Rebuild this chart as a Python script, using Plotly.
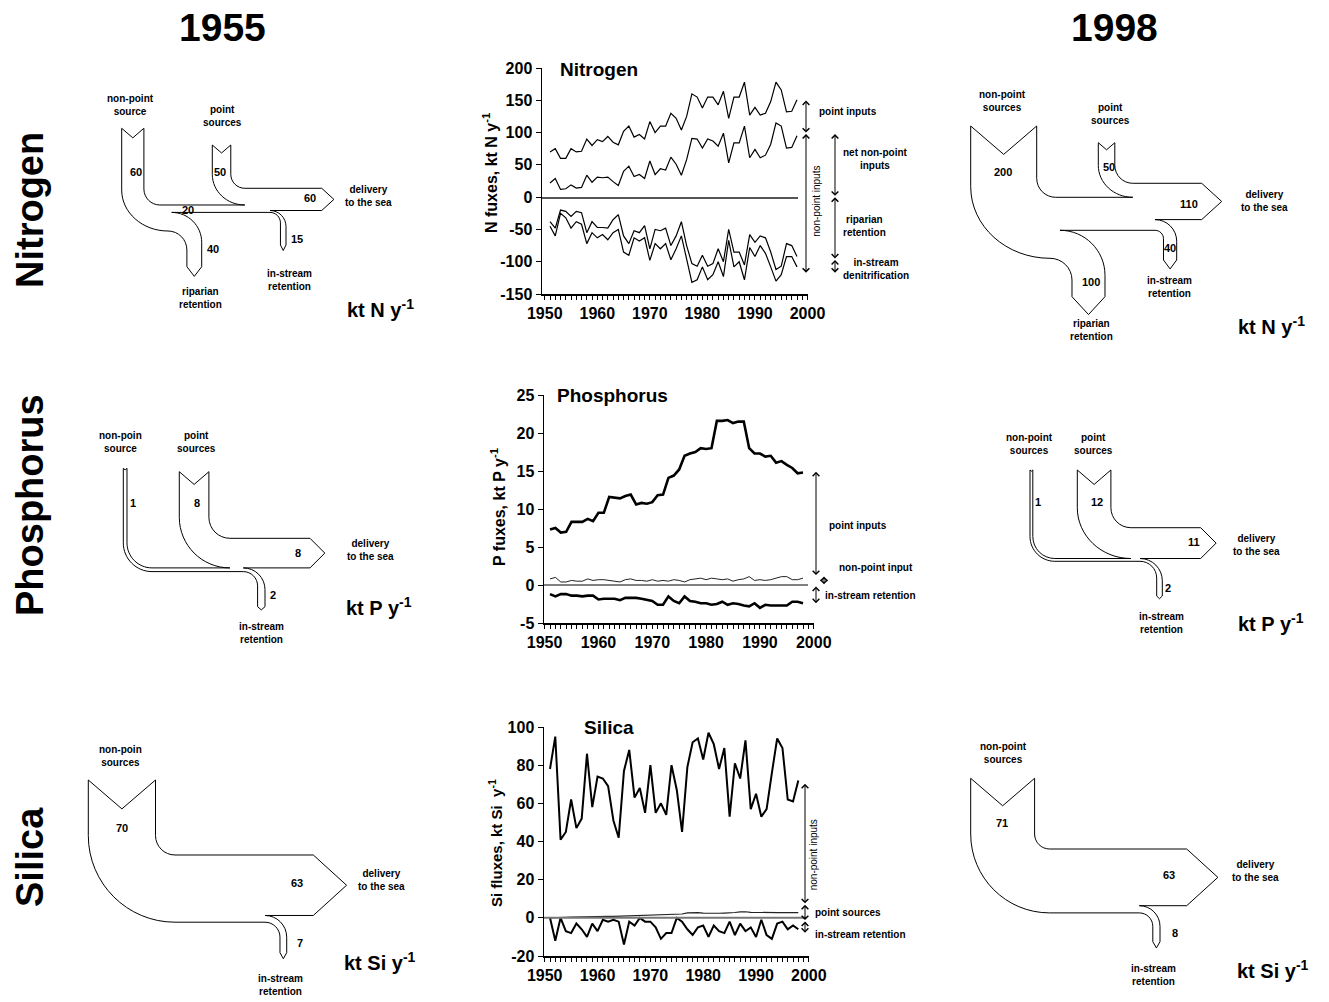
import plotly.graph_objects as go

W, H = 1329, 1002
FONT = "Liberation Sans, Arial, Helvetica, sans-serif"

# ---------------- time-series data ----------------
years = list(range(1951, 1999))

n_total = [70, 75, 60, 60, 75, 70, 71, 90, 80, 89, 86, 94, 85, 81, 102, 110, 93, 97, 90, 117,
           100, 110, 110, 130, 122, 104, 125, 160, 155, 138, 155, 155, 143, 164, 122, 155, 155, 178,
           127, 139, 127, 130, 148, 178, 166, 132, 133, 151]
n_net_nonpoint = [22, 29, 12, 13, 19, 14, 15, 34, 23, 31, 30, 31, 24, 18, 40, 48, 32, 35, 29, 56,
                  35, 44, 42, 62, 51, 34, 58, 91, 90, 76, 90, 87, 79, 99, 53, 84, 84, 110,
                  61, 74, 61, 65, 82, 115, 110, 76, 77, 95]
n_riparian = [-38, -48, -20, -22, -30, -22, -24, -55, -38, -47, -47, -48, -35, -27, -60, -72, -52, -55, -44, -80,
              -50, -52, -48, -75, -60, -38, -75, -103, -107, -90, -107, -103, -80, -100, -50, -85, -85, -105,
              -58, -70, -60, -63, -85, -112, -107, -72, -75, -92]
n_riparian_instream = [-45, -60, -25, -32, -48, -38, -42, -72, -55, -63, -58, -66, -55, -50, -85, -90, -63, -68, -63, -98,
                       -72, -80, -72, -97, -80, -60, -96, -132, -128, -108, -128, -120, -100, -123, -67, -108, -100, -128,
                       -78, -92, -75, -87, -108, -130, -120, -92, -92, -108]

p_point = [7.3, 7.5, 6.9, 7.0, 8.3, 8.3, 8.3, 8.7, 8.4, 9.5, 9.5, 11.6, 11.5, 11.4, 11.7, 11.9, 10.6, 10.8,
           10.7, 10.9, 11.8, 11.9, 14.1, 14.4, 15.2, 17.0, 17.3, 17.5, 18.0, 17.9, 18.0, 21.6, 21.6, 21.7,
           21.3, 21.5, 21.5, 18.0, 17.3, 17.3, 16.9, 17.0, 16.1, 16.3, 15.8, 15.4, 14.7, 14.8]
p_nonpoint = [0.8, 1.0, 0.4, 0.4, 0.6, 0.5, 0.5, 0.8, 0.6, 0.7, 0.7, 0.6, 0.5, 0.4, 0.7, 0.8, 0.6, 0.6,
              0.5, 0.7, 0.5, 0.6, 0.5, 0.7, 0.6, 0.4, 0.7, 0.8, 0.9, 0.7, 0.9, 0.8, 0.7, 0.8, 0.5, 0.7,
              0.8, 1.1, 0.6, 0.7, 0.6, 0.7, 0.9, 1.1, 1.1, 0.7, 0.7, 0.9]
p_instream = [-1.2, -1.5, -1.2, -1.2, -1.4, -1.4, -1.5, -1.4, -1.4, -1.9, -1.8, -1.8, -1.8, -2.0, -1.7, -1.7,
              -1.7, -1.8, -2.0, -2.1, -2.6, -2.6, -1.5, -2.1, -2.4, -1.5, -2.1, -2.2, -2.4, -2.4, -2.6, -2.5,
              -2.2, -2.6, -2.4, -2.5, -2.7, -2.8, -2.4, -3.0, -2.6, -2.7, -2.7, -2.7, -2.7, -2.2, -2.2, -2.4]

si_total = [78, 95, 41, 45, 62, 47, 52, 86, 58, 74, 73, 69, 51, 42, 77, 88, 63, 68, 55, 80,
            55, 60, 54, 80, 67, 45, 79, 92, 94, 83, 97, 91, 78, 89, 53, 81, 73, 93, 57, 65,
            53, 57, 76, 94, 89, 62, 61, 72]
si_point = [0.0, 0.0, 0.2, 0.3, 0.4, 0.5, 0.5, 0.6, 0.6, 0.7, 0.7, 0.8, 0.8, 0.9, 1.0, 1.0, 1.1, 1.1,
            1.2, 1.4, 1.5, 1.6, 1.7, 1.8, 1.9, 2.0, 2.6, 2.7, 2.7, 2.5, 2.4, 2.4, 2.4, 2.5, 2.5, 2.8,
            3.1, 3.2, 2.9, 2.8, 2.7, 2.7, 2.7, 2.7, 2.7, 2.7, 2.7, 2.7]
si_instream = [0, -12, 0, -7, -8, -3, -6, -10, -3, -7, -1, -2, -1, -2, -14, -2, -4, 0, -2, -2,
               -5, -11, -8, -8, 0, -2, -6, -9, -5, -4, -10, -4, -7, -8, -2, -9, -3, -7, -5, -10,
               -1, -9, -11, -3, -2, -6, -4, -6]

# axis tick values
x_ticks = [1950, 1960, 1970, 1980, 1990, 2000]
n_yticks = [-150, -100, -50, 0, 50, 100, 150, 200]
p_yticks = [-5, 0, 5, 10, 15, 20, 25]
si_yticks = [-20, 0, 20, 40, 60, 80, 100]

# ---------------- flow-diagram values (kt per year) ----------------
n_1955 = {"nonpoint": 60, "point": 50, "riparian": 40, "instream": 15, "delivery": 60}
n_1998 = {"nonpoint": 200, "point": 50, "riparian": 100, "instream": 40, "delivery": 110}
p_1955 = {"nonpoint": 1, "point": 8, "instream": 2, "delivery": 8}
p_1998 = {"nonpoint": 1, "point": 12, "instream": 2, "delivery": 11}
si_1955 = {"nonpoint": 70, "instream": 7, "delivery": 63}
si_1998 = {"nonpoint": 71, "instream": 8, "delivery": 63}

# ---------------- helpers ----------------
def px(x):
    return x / W


def py(y):
    return 1 - y / H


KAPPA = 0.5523


class Path:
    def __init__(self, x, y):
        self.d = [f"M{px(x):.5f},{py(y):.5f}"]
        self.x, self.y = x, y

    def L(self, x, y):
        self.d.append(f"L{px(x):.5f},{py(y):.5f}")
        self.x, self.y = x, y
        return self

    def C(self, x, y, start):
        x0, y0 = self.x, self.y
        if start == "h":
            c1 = (x0 + KAPPA * (x - x0), y0)
            c2 = (x, y - KAPPA * (y - y0))
        else:
            c1 = (x0, y0 + KAPPA * (y - y0))
            c2 = (x - KAPPA * (x - x0), y)
        self.d.append("C" + " ".join(f"{px(a):.5f},{py(b):.5f}" for a, b in (c1, c2, (x, y))))
        self.x, self.y = x, y
        return self

    def svg(self):
        return "".join(self.d) + "Z"


shapes = []
annotations = []


def add_path(p):
    shapes.append(dict(type="path", path=p.svg(), xref="paper", yref="paper",
                       line=dict(color="black", width=1), fillcolor="rgba(0,0,0,0)", layer="above"))


def label(x, y, text, size=10, anchor="center", weight="bold", angle=0):
    annotations.append(dict(x=px(x), y=py(y), xref="paper", yref="paper", text=text, showarrow=False,
                            textangle=angle, xanchor=anchor, yanchor="middle",
                            font=dict(family=FONT, size=size, color="black", weight=weight)))


def notch(w):
    return 0.43 * w


def tipd(w):
    return 0.45 * w + 3


def n_diagram(v, k, g):
    wn, wp, hd = v["nonpoint"] * k, v["point"] * k, v["delivery"] * k
    wi, wr = v["instream"] * k, v["riparian"] * k
    wb = (v["nonpoint"] - v["riparian"]) * k
    xnl, xpl = g["xn"], g["xp"]
    xnr, xpr = xnl + wn, xpl + wp
    yd, yb1 = g["yd"], g["yb1"]
    yb2 = yb1 + wb
    p = Path(xpr, g["ytop_p"])
    p.L(xpr, yd - g["rp"]).C(xpr + g["rp"], yd, "v")
    p.L(g["xa"], yd).L(g["xa"] + 0.55 * hd, yd + hd / 2).L(g["xa"], yd + hd)
    ro = g["xir"] - g["xs"]
    p.L(g["xs"], yd + hd).C(g["xir"], yd + hd + ro, "h")
    p.L(g["xir"], g["yie"]).L(g["xir"] - wi / 2, g["yie"] + tipd(wi))
    xil = g["xir"] - wi
    ril = max(ro - wi, 4)
    p.L(xil, g["yie"]).L(xil, yb2 + ril).C(xil - ril, yb2, "v")
    p.L(g["xrj"], yb2).C(g["xrr"], yb2 + (g["xrr"] - g["xrj"]), "h")
    p.L(g["xrr"], g["yre"]).L(g["xrr"] - wr / 2, g["yre"] + tipd(wr))
    xrl = g["xrr"] - wr
    p.L(xrl, g["yre"]).L(xrl, g["ys2"]).C(g["xm"], g["ym"], "v").C(xnl, g["ys1"], "h")
    p.L(xnl, g["ytop_n"]).L(xnl + wn / 2, g["ytop_n"] + notch(wn)).L(xnr, g["ytop_n"])
    p.L(xnr, yb1 - g["r1"]).C(xnr + g["r1"], yb1, "v")
    xe = xpr + g["rp"]
    p.L(xe, yb1).C(xpl, yd - g["rp"], "h")
    p.L(xpl, g["ytop_p"]).L(xpl + wp / 2, g["ytop_p"] + notch(wp)).L(xpr, g["ytop_p"])
    add_path(p)


def p_diagram(v, k, g):
    wn, wp, hd, wi = v["nonpoint"] * k, v["point"] * k, v["delivery"] * k, v["instream"] * k
    xn, xp, yd, rp, rn = g["xn"], g["xp"], g["yd"], g["rp"], g["rn"]
    p = Path(xp + wp, g["ytop_p"])
    p.L(xp + wp, yd - rp).C(xp + wp + rp, yd, "v")
    p.L(g["xa"], yd).L(g["xa"] + 0.5 * hd, yd + hd / 2).L(g["xa"], yd + hd)
    ro = g["xir"] - g["xs"]
    p.L(g["xs"], yd + hd).C(g["xir"], yd + hd + ro, "h")
    p.L(g["xir"], g["yie"]).L(g["xir"] - wi / 2, g["yie"] + tipd(wi) * 0.5)
    xil = g["xir"] - wi
    ril = max(ro - wi, 4)
    ynb = yd + hd + wn
    p.L(xil, g["yie"]).L(xil, ynb + ril).C(xil - ril, ynb, "v")
    cx = xn + wn + rn
    p.L(cx, ynb).C(xn, yd + hd - rn, "h")
    p.L(xn, g["ytop_n"]).L(xn + wn / 2, g["ytop_n"] + notch(wn)).L(xn + wn, g["ytop_n"])
    p.L(xn + wn, yd + hd - rn).C(cx, yd + hd, "v")
    xe = xp + wp + rp
    p.L(xe, yd + hd).C(xp, yd - rp, "h")
    p.L(xp, g["ytop_p"]).L(xp + wp / 2, g["ytop_p"] + notch(wp)).L(xp + wp, g["ytop_p"])
    add_path(p)


def s_diagram(v, k, g):
    wt, hd, wi = v["nonpoint"] * k, v["delivery"] * k, v["instream"] * k
    xl, yd, r = g["xl"], g["yd"], g["r"]
    xr = xl + wt
    p = Path(xr, g["ytop"])
    p.L(xr, yd - r).C(xr + r, yd, "v")
    p.L(g["xa"], yd).L(g["xa"] + 0.55 * hd, yd + hd / 2).L(g["xa"], yd + hd)
    ro = g["xir"] - g["xs"]
    p.L(g["xs"], yd + hd).C(g["xir"], yd + hd + ro, "h")
    p.L(g["xir"], g["yie"]).L(g["xir"] - wi / 2, g["yie"] + tipd(wi))
    xil = g["xir"] - wi
    ril = max(ro - wi, 4)
    yb = yd + wt
    p.L(xil, g["yie"]).L(xil, yb + ril).C(xil - ril, yb, "v")
    p.L(xr + r, yb).C(xl, yd - r, "h")
    p.L(xl, g["ytop"]).L(xl + wt / 2, g["ytop"] + notch(wt)).L(xr, g["ytop"])
    add_path(p)


# ---------------- diagrams ----------------
n_diagram(n_1955, 0.37, dict(xn=121.7, ytop_n=128.3, xp=212.3, ytop_p=145, yd=188.3, rp=14, r1=16,
                              yb1=205, xa=321.7, xs=270, xir=286, yie=245, xrj=171.7, xrr=201.7,
                              yre=266.7, ys2=250, xm=168, ym=231, ys1=190))
n_diagram(n_1998, 0.33, dict(xn=970.7, ytop_n=126, xp=1098.3, ytop_p=142.7, yd=183.3, rp=18, r1=19,
                              yb1=197.3, xa=1201.7, xs=1155, xir=1176.7, yie=260, xrj=1060, xrr=1105,
                              yre=296.7, ys2=280, xm=1050, ym=258.3, ys1=186.7))
p_diagram(p_1955, 3.7, dict(xn=123.3, ytop_n=468.3, xp=179.3, ytop_p=471.7, yd=538.3, rp=21, rn=25,
                            xa=310, xs=243.3, xir=265, yie=606.7))
p_diagram(p_1998, 2.8, dict(xn=1030, ytop_n=470, xp=1077.3, ytop_p=470, yd=527.7, rp=20, rn=22,
                            xa=1200.7, xs=1140, xir=1162.3, yie=596))
s_diagram(si_1955, 0.96, dict(xl=88.3, ytop=780, yd=855, r=19.5, xa=313.3, xs=265, xir=286.7, yie=952.7))
s_diagram(si_1998, 0.90, dict(xl=970.7, ytop=778.3, yd=849, r=15, xa=1186.7, xs=1139.3, xir=1160, yie=941.7))

# diagram labels
UNIT = 20
label(130, 105.3, "non-point<br>source")
label(222.7, 116.3, "point<br>sources")
label(135.7, 171.7, str(n_1955["nonpoint"]), 11)
label(220, 171.7, str(n_1955["point"]), 11)
label(310, 198.3, str(n_1955["delivery"]), 11)
label(187.7, 210, str(n_1955["nonpoint"] - n_1955["riparian"]), 11)
label(213.3, 249.3, str(n_1955["riparian"]), 11)
label(296.7, 239, str(n_1955["instream"]), 11)
label(368.3, 196.3, "delivery<br>to the sea")
label(289.3, 280, "in-stream<br>retention")
label(200, 298, "riparian<br>retention")
label(380, 308, "kt N y<sup>-1</sup>", UNIT)

label(1002.7, 100.7, "non-point<br>sources")
label(1110, 114.5, "point<br>sources")
label(1003.3, 171.7, str(n_1998["nonpoint"]), 11)
label(1109, 166.7, str(n_1998["point"]), 11)
label(1189.3, 204.3, str(n_1998["delivery"]), 11)
label(1170, 248.3, str(n_1998["instream"]), 11)
label(1090.7, 281.7, str(n_1998["riparian"]), 11)
label(1264, 200.5, "delivery<br>to the sea")
label(1169.3, 286.7, "in-stream<br>retention")
label(1091.7, 329.7, "riparian<br>retention")
label(1271.7, 325.7, "kt N y<sup>-1</sup>", UNIT)

label(120, 441.7, "non-poin<br>source")
label(196.7, 441.7, "point<br>sources")
label(133.3, 503.3, str(p_1955["nonpoint"]), 11)
label(196.7, 503.3, str(p_1955["point"]), 11)
label(298.3, 553.3, str(p_1955["delivery"]), 11)
label(273.3, 595, str(p_1955["instream"]), 11)
label(370, 549.7, "delivery<br>to the sea")
label(261.7, 633.3, "in-stream<br>retention")
label(379, 606.5, "kt P y<sup>-1</sup>", UNIT)

label(1029.3, 443.7, "non-point<br>sources")
label(1093.3, 443.7, "point<br>sources")
label(1038.3, 501.7, str(p_1998["nonpoint"]), 11)
label(1096.7, 501.7, str(p_1998["point"]), 11)
label(1194.3, 541.7, str(p_1998["delivery"]), 11)
label(1168.3, 587.7, str(p_1998["instream"]), 11)
label(1256.7, 544.7, "delivery<br>to the sea")
label(1161.7, 622.5, "in-stream<br>retention")
label(1270.5, 622.3, "kt P y<sup>-1</sup>", UNIT)

label(120, 756, "non-poin<br>sources")
label(121.7, 828.3, str(si_1955["nonpoint"]), 11)
label(296.7, 882.7, str(si_1955["delivery"]), 11)
label(300, 942.7, str(si_1955["instream"]), 11)
label(381.7, 879.5, "delivery<br>to the sea")
label(280, 985, "in-stream<br>retention")
label(380, 961, "kt Si y<sup>-1</sup>", UNIT)

label(1003.3, 752.8, "non-point<br>sources")
label(1001.7, 823.3, str(si_1998["nonpoint"]), 11)
label(1169.3, 875, str(si_1998["delivery"]), 11)
label(1175, 932.7, str(si_1998["instream"]), 11)
label(1255, 871.3, "delivery<br>to the sea")
label(1153.3, 975, "in-stream<br>retention")
label(1273, 969.7, "kt Si y<sup>-1</sup>", UNIT)

# headers and row titles
label(222, 27, "1955", 39)
label(1114, 27, "1998", 39)
label(30, 210, "Nitrogen", 38, angle=-90)
label(30, 505, "Phosphorus", 38, angle=-90)
label(30, 857, "Silica", 38, angle=-90)

# ---------------- middle time-series charts ----------------
fig = go.Figure()


def line(y, ax, width=1.2, color="black"):
    fig.add_trace(go.Scatter(x=years, y=y, mode="lines", xaxis=f"x{ax}", yaxis=f"y{ax}",
                             line=dict(color=color, width=width), hoverinfo="skip", showlegend=False))


line(n_total, "")
line(n_net_nonpoint, "")
line(n_riparian, "")
line(n_riparian_instream, "")
line(p_nonpoint, "2", 1.0, "#222")
line(p_point, "2", 2.6)
line(p_instream, "2", 2.6)
line(si_point, "3", 1.2, "#222")
line(si_total, "3", 2.0)
line(si_instream, "3", 2.0)

TICKFONT = dict(family=FONT, size=16, color="black", weight="bold")


def xgeom(px_first, px_last, px_left):
    """pixel extent + data range of an x axis so that the first/last year land on given pixels"""
    s = (px_last - px_first) / (years[-1] - years[0])
    x0 = years[0] - (px_first - px_left) / s
    px_right = px_first + (x_ticks[-1] - years[0]) * s
    return (px_left, px_right), [x0, x_ticks[-1]]


def xaxis(geom, anchor):
    (l, r), rng = geom
    return dict(domain=[px(l), px(r)], range=rng, anchor=anchor, tickmode="array", tickvals=x_ticks,
                ticktext=[str(t) for t in x_ticks],
                ticks="outside", ticklen=4, tickwidth=1, tickcolor="black",
                minor=dict(tick0=1950, dtick=1, ticks="outside", ticklen=4, tickwidth=1, tickcolor="black"),
                showline=True, linewidth=1.5, linecolor="black", showgrid=False, zeroline=False,
                automargin=False, tickfont=TICKFONT)


def yaxis(dom, rng, vals, anchor):
    return dict(domain=dom, range=rng, anchor=anchor, tickmode="array", tickvals=vals,
                ticktext=[str(v) for v in vals],
                ticks="outside", ticklen=5, tickwidth=1, tickcolor="black",
                showline=True, linewidth=1.5, linecolor="black", showgrid=False, zeroline=False,
                automargin=False, tickfont=TICKFONT)


g_n = xgeom(550, 797, 542)
g_p = xgeom(550, 803, 544)
g_s = xgeom(550, 798.3, 544)


def dfrac(geom, xpix):
    (l, r), _ = geom
    return (xpix - l) / (r - l)


# zero lines
shapes.append(dict(type="line", xref="x domain", yref="y", x0=0, x1=dfrac(g_n, 798), y0=-1.5, y1=-1.5,
                   line=dict(color="#555", width=2)))
shapes.append(dict(type="line", xref="x2 domain", yref="y2", x0=0, x1=dfrac(g_p, 808), y0=0, y1=0,
                   line=dict(color="black", width=1)))
shapes.append(dict(type="line", xref="x3 domain", yref="y3", x0=0, x1=dfrac(g_s, 806), y0=0, y1=0,
                   line=dict(color="#777", width=2)))


def darrow(ax, xd, y0, y1):
    annotations.append(dict(x=xd, y=y1, ax=xd, ay=y0, xref=f"x{ax} domain", yref=f"y{ax}",
                            axref=f"x{ax} domain", ayref=f"y{ax}", text="", showarrow=True,
                            arrowhead=4, startarrowhead=4, arrowside="end+start", arrowsize=1.3,
                            startarrowsize=1.3, arrowwidth=1, arrowcolor="black",
                            standoff=0, startstandoff=0))


# Nitrogen annotations
darrow("", dfrac(g_n, 806), 152, 100)
darrow("", dfrac(g_n, 806), 100, -117)
darrow("", dfrac(g_n, 835), 100, 2)
darrow("", dfrac(g_n, 835), 2, -95)
darrow("", dfrac(g_n, 835), -95, -117)
label(816.7, 111.7, "point inputs", 10, "left")
label(840.7, 159, "net non-point<br>inputs", 10, "left")
label(840.7, 226, "riparian<br>retention", 10, "left")
label(841, 269, "in-stream<br>denitrification", 10, "left")
label(817, 201.7, "non-point inputs", 10, weight="normal", angle=-90)

# Phosphorus annotations
darrow("2", dfrac(g_p, 816), 15.1, 1.3)
darrow("2", dfrac(g_p, 824), 1.3, 0.1)
darrow("2", dfrac(g_p, 816), 0, -2.4)
label(826.7, 525, "point inputs", 10, "left")
label(836.7, 567.3, "non-point input", 10, "left")
label(822.7, 595, "in-stream retention", 10, "left")

# Silica annotations
darrow("3", dfrac(g_s, 805), 71, 7.6)
darrow("3", dfrac(g_s, 805), 7.6, -1.2)
darrow("3", dfrac(g_s, 805), -1.2, -7.8)
label(813.3, 855, "non-point inputs", 10, weight="normal", angle=-90)
label(813.3, 912.3, "point sources", 10, "left")
label(813.3, 934, "in-stream retention", 10, "left")

# chart titles and y titles
label(558.3, 70, "Nitrogen", 19, "left")
label(555, 395, "Phosphorus", 19, "left")
label(581.7, 727, "Silica", 19, "left")
label(490, 173, "N fuxes, kt N y<sup>-1</sup>", 16, angle=-90)
label(498, 507, "P fuxes, kt P y<sup>-1</sup>", 16, angle=-90)
label(495, 843, "Si fluxes, kt Si  y<sup>-1</sup>", 15, angle=-90)

fig.update_layout(
    template="none",
    width=W, height=H, autosize=False,
    margin=dict(l=0, r=0, t=0, b=0, pad=0, autoexpand=False),
    paper_bgcolor="white", plot_bgcolor="white", showlegend=False,
    font=dict(family=FONT, color="black"),
    xaxis=xaxis(g_n, "y"),
    yaxis=yaxis([py(294), py(68)], [-150, 200], n_yticks, "x"),
    xaxis2=xaxis(g_p, "y2"),
    yaxis2=yaxis([py(623), py(395)], [-5, 25], p_yticks, "x2"),
    xaxis3=xaxis(g_s, "y3"),
    yaxis3=yaxis([py(956), py(727)], [-20, 100], si_yticks, "x3"),
    shapes=shapes,
    annotations=annotations,
)

fig.write_html(
    "out.html",
    config={"displayModeBar": False, "staticPlot": True},
    post_script="document.body.style.margin='0px';document.body.style.padding='0px';"
                "document.body.style.overflow='hidden';",
)
